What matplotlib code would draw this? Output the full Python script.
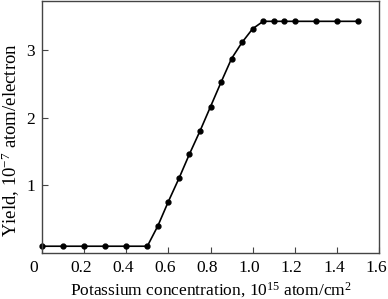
import matplotlib
matplotlib.use('Agg')
import matplotlib.pyplot as plt
import matplotlib.transforms as mtransforms

plt.rcParams['font.family'] = ['Liberation Serif', 'DejaVu Serif']
plt.rcParams['mathtext.default'] = 'regular'
plt.rcParams['font.size'] = 12.5

# data
conc = [0.0, 0.1, 0.2, 0.3, 0.4, 0.5, 0.55, 0.6, 0.65, 0.7, 0.75, 0.8, 0.85,
        0.9, 0.95, 1.0, 1.05, 1.1, 1.15, 1.2, 1.3, 1.4, 1.5]
yield_ = [0.1, 0.1, 0.1, 0.1, 0.1, 0.1, 0.40, 0.76, 1.10, 1.46, 1.80, 2.16, 2.52,
          2.87, 3.11, 3.31, 3.42, 3.42, 3.42, 3.42, 3.42, 3.42, 3.42]
xticks = [0, 0.2, 0.4, 0.6, 0.8, 1.0, 1.2, 1.4, 1.6]
xticklabels = ['0', '0.2', '0.4', '0.6', '0.8', '1.0', '1.2', '1.4', '1.6']
yticks = [1, 2, 3]

fig = plt.figure(figsize=(3.88, 2.99), dpi=100)
ax = fig.add_axes([42 / 388, 46 / 299, 337 / 388, 252 / 299])

ax.plot(conc, yield_, color='black', lw=1.2, marker='o', ms=3.5, clip_on=False)

ax.set_xlim(0, 1.6)
ax.set_ylim(0, 3.72)
ax.set_xticks(xticks)
ax.set_xticklabels(xticklabels)
ax.set_yticks(yticks)
ax.tick_params(direction='in', length=4, width=0.8, color='#444444', labelsize=12.5)
ax.tick_params(axis='x', pad=5)
ax.tick_params(axis='y', pad=5)

# x labels sit a little left of their ticks, "0" well left of the corner
for i, lbl in enumerate(ax.get_xticklabels()):
    dx = -8 if i == 0 else -3
    lbl.set_transform(lbl.get_transform() + mtransforms.ScaledTranslation(dx / 100, 0, fig.dpi_scale_trans))

for s in ax.spines.values():
    s.set_color('#444444')
    s.set_linewidth(1.0)

ax.set_xlabel('Potassium concentration, 10$^{15}$ atom/cm$^2$', labelpad=3, fontsize=12.5)
ax.set_ylabel('Yield, 10$^{-7}$ atom/electron', fontsize=13.5)
ax.yaxis.set_label_coords(-0.06, 0.45)

fig.savefig('out.png', dpi=100)
